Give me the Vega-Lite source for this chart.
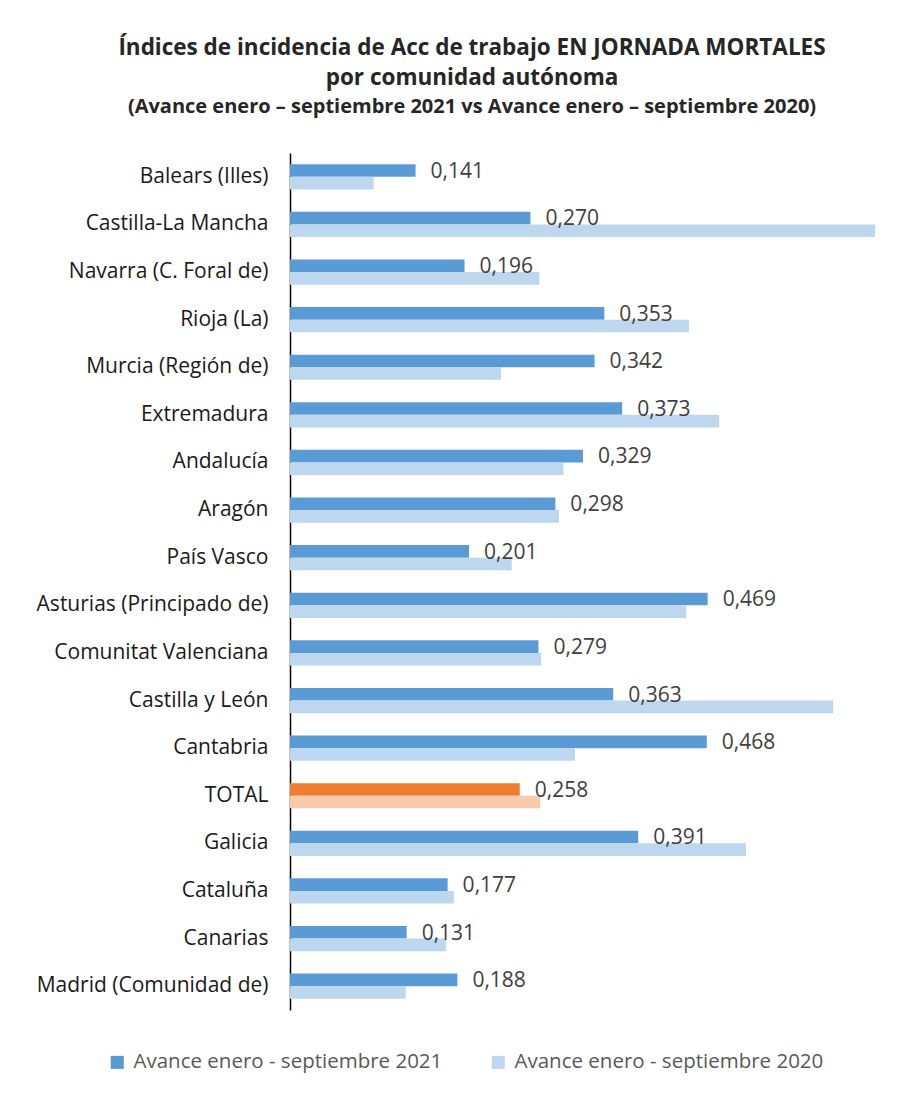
{
  "$schema": "https://vega.github.io/schema/vega-lite/v6.json",
  "autosize": {"type": "none"},
  "width": 610,
  "height": 857,
  "padding": {"left": 290, "top": 153, "right": 17, "bottom": 86},
  "background": "white",
  "config": {
    "locale": {"number": {"decimal": ",", "thousands": ".", "grouping": [3], "currency": ["", " €"]}},
    "view": {"stroke": null},
    "font": "Open Sans"
  },
  "title": {
    "text": ["Índices de incidencia de Acc de trabajo EN JORNADA MORTALES", "por comunidad autónoma"],
    "subtitle": "(Avance enero – septiembre 2021 vs Avance enero – septiembre 2020)",
    "font": "Open Sans",
    "subtitleFont": "Open Sans",
    "fontSize": 22.5,
    "fontWeight": "bold",
    "lineHeight": 30,
    "color": "#262626",
    "subtitleFontSize": 20,
    "subtitleFontWeight": "bold",
    "subtitleColor": "#262626",
    "subtitlePadding": 8,
    "anchor": "middle",
    "frame": "group",
    "dx": -123,
    "offset": 36
  },
  "data": {
    "values": [
      {"comunidad": "Balears (Illes)", "serie": "Avance enero - septiembre 2021", "valor": 0.141},
      {"comunidad": "Balears (Illes)", "serie": "Avance enero - septiembre 2020", "valor": 0.094},
      {"comunidad": "Castilla-La Mancha", "serie": "Avance enero - septiembre 2021", "valor": 0.270},
      {"comunidad": "Castilla-La Mancha", "serie": "Avance enero - septiembre 2020", "valor": 0.657},
      {"comunidad": "Navarra (C. Foral de)", "serie": "Avance enero - septiembre 2021", "valor": 0.196},
      {"comunidad": "Navarra (C. Foral de)", "serie": "Avance enero - septiembre 2020", "valor": 0.280},
      {"comunidad": "Rioja (La)", "serie": "Avance enero - septiembre 2021", "valor": 0.353},
      {"comunidad": "Rioja (La)", "serie": "Avance enero - septiembre 2020", "valor": 0.448},
      {"comunidad": "Murcia (Región de)", "serie": "Avance enero - septiembre 2021", "valor": 0.342},
      {"comunidad": "Murcia (Región de)", "serie": "Avance enero - septiembre 2020", "valor": 0.237},
      {"comunidad": "Extremadura", "serie": "Avance enero - septiembre 2021", "valor": 0.373},
      {"comunidad": "Extremadura", "serie": "Avance enero - septiembre 2020", "valor": 0.482},
      {"comunidad": "Andalucía", "serie": "Avance enero - septiembre 2021", "valor": 0.329},
      {"comunidad": "Andalucía", "serie": "Avance enero - septiembre 2020", "valor": 0.307},
      {"comunidad": "Aragón", "serie": "Avance enero - septiembre 2021", "valor": 0.298},
      {"comunidad": "Aragón", "serie": "Avance enero - septiembre 2020", "valor": 0.302},
      {"comunidad": "País Vasco", "serie": "Avance enero - septiembre 2021", "valor": 0.201},
      {"comunidad": "País Vasco", "serie": "Avance enero - septiembre 2020", "valor": 0.249},
      {"comunidad": "Asturias (Principado de)", "serie": "Avance enero - septiembre 2021", "valor": 0.469},
      {"comunidad": "Asturias (Principado de)", "serie": "Avance enero - septiembre 2020", "valor": 0.445},
      {"comunidad": "Comunitat Valenciana", "serie": "Avance enero - septiembre 2021", "valor": 0.279},
      {"comunidad": "Comunitat Valenciana", "serie": "Avance enero - septiembre 2020", "valor": 0.282},
      {"comunidad": "Castilla y León", "serie": "Avance enero - septiembre 2021", "valor": 0.363},
      {"comunidad": "Castilla y León", "serie": "Avance enero - septiembre 2020", "valor": 0.610},
      {"comunidad": "Cantabria", "serie": "Avance enero - septiembre 2021", "valor": 0.468},
      {"comunidad": "Cantabria", "serie": "Avance enero - septiembre 2020", "valor": 0.320},
      {"comunidad": "TOTAL", "serie": "Avance enero - septiembre 2021", "valor": 0.258},
      {"comunidad": "TOTAL", "serie": "Avance enero - septiembre 2020", "valor": 0.281},
      {"comunidad": "Galicia", "serie": "Avance enero - septiembre 2021", "valor": 0.391},
      {"comunidad": "Galicia", "serie": "Avance enero - septiembre 2020", "valor": 0.512},
      {"comunidad": "Cataluña", "serie": "Avance enero - septiembre 2021", "valor": 0.177},
      {"comunidad": "Cataluña", "serie": "Avance enero - septiembre 2020", "valor": 0.184},
      {"comunidad": "Canarias", "serie": "Avance enero - septiembre 2021", "valor": 0.131},
      {"comunidad": "Canarias", "serie": "Avance enero - septiembre 2020", "valor": 0.175},
      {"comunidad": "Madrid (Comunidad de)", "serie": "Avance enero - septiembre 2021", "valor": 0.188},
      {"comunidad": "Madrid (Comunidad de)", "serie": "Avance enero - septiembre 2020", "valor": 0.130}
    ]
  },
  "encoding": {
    "y": {
      "field": "comunidad",
      "type": "nominal",
      "sort": ["Balears (Illes)", "Castilla-La Mancha", "Navarra (C. Foral de)", "Rioja (La)", "Murcia (Región de)", "Extremadura", "Andalucía", "Aragón", "País Vasco", "Asturias (Principado de)", "Comunitat Valenciana", "Castilla y León", "Cantabria", "TOTAL", "Galicia", "Cataluña", "Canarias", "Madrid (Comunidad de)"],
      "scale": {"paddingInner": 0.47, "paddingOuter": 0.235},
      "axis": {
        "title": null,
        "ticks": false,
        "domainColor": "#000000",
        "domainWidth": 1.5,
        "labelFontSize": 21,
        "labelColor": "#1a1a1a",
        "labelPadding": 22,
        "labelLimit": 400,
        "labelFont": "Open Sans"
      }
    },
    "x": {
      "field": "valor",
      "type": "quantitative",
      "scale": {"domain": [0, 0.685], "nice": false},
      "axis": null
    }
  },
  "layer": [
    {
      "mark": {"type": "bar"},
      "encoding": {
        "yOffset": {
          "field": "serie",
          "type": "nominal",
          "sort": ["Avance enero - septiembre 2021", "Avance enero - septiembre 2020"],
          "scale": {"paddingInner": 0, "paddingOuter": 0}
        },
        "color": {
          "condition": [
            {"test": "datum.comunidad === 'TOTAL' && datum.serie === 'Avance enero - septiembre 2021'", "value": "#ED7D31"},
            {"test": "datum.comunidad === 'TOTAL' && datum.serie === 'Avance enero - septiembre 2020'", "value": "#F8CBAD"}
          ],
          "field": "serie",
          "type": "nominal",
          "scale": {
            "domain": ["Avance enero - septiembre 2021", "Avance enero - septiembre 2020"],
            "range": ["#5B9BD5", "#BDD7EE"]
          },
          "legend": {
            "title": null,
            "orient": "none",
            "direction": "horizontal",
            "legendX": -183,
            "legendY": 899,
            "symbolType": "square",
            "symbolSize": 170,
            "symbolStrokeWidth": 0,
            "labelFontSize": 20.5,
            "labelColor": "#595959",
            "labelFont": "Open Sans",
            "labelLimit": 500,
            "columnPadding": 45,
            "labelOffset": 6
          }
        }
      }
    },
    {
      "transform": [{"filter": "datum.serie === 'Avance enero - septiembre 2021'"}],
      "mark": {"type": "text", "align": "left", "baseline": "middle", "dx": 15, "dy": -5, "fontSize": 21, "color": "#404040", "font": "Open Sans"},
      "encoding": {
        "text": {"field": "valor", "type": "quantitative", "format": ".3f"}
      }
    }
  ]
}
